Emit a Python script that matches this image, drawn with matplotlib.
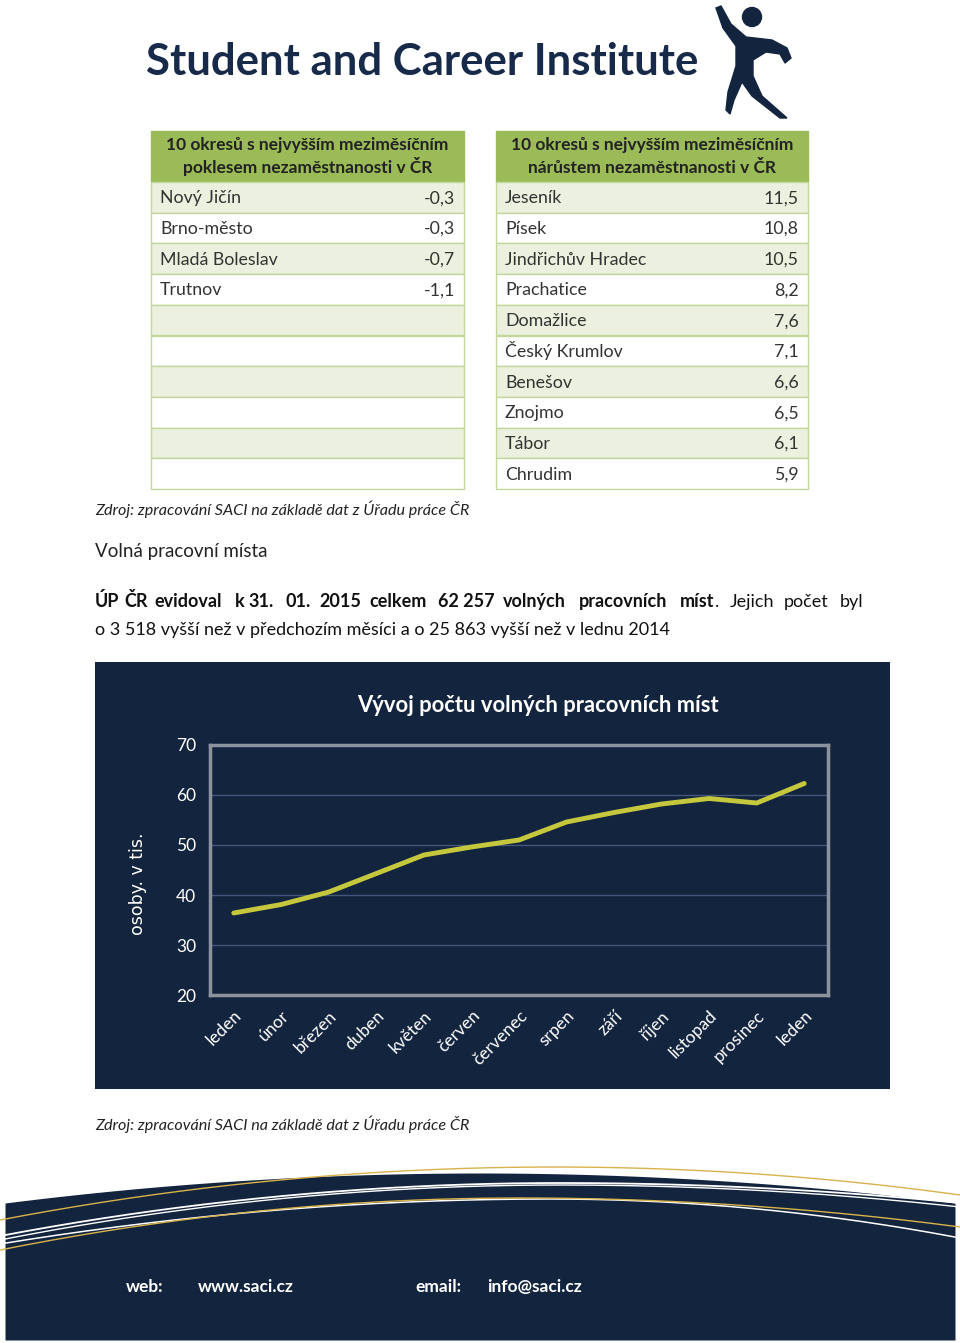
import numpy as np
import matplotlib
matplotlib.use("Agg")
import matplotlib.pyplot as plt
from matplotlib.patches import Rectangle, Circle, Polygon

plt.rcParams['font.family'] = ['Lato', 'DejaVu Sans']

# --- data ---
drop_districts = ["Nový Jičín", "Brno-město", "Mladá Boleslav", "Trutnov"]
drop_values = ["-0,3", "-0,3", "-0,7", "-1,1"]
rise_districts = ["Jeseník", "Písek", "Jindřichův Hradec", "Prachatice", "Domažlice",
                  "Český Krumlov", "Benešov", "Znojmo", "Tábor", "Chrudim"]
rise_values = ["11,5", "10,8", "10,5", "8,2", "7,6", "7,1", "6,6", "6,5", "6,1", "5,9"]

months = ["leden", "únor", "březen", "duben", "květen", "červen", "červenec",
          "srpen", "září", "říjen", "listopad", "prosinec", "leden"]
vacancies = [36.4, 38.1, 40.6, 44.3, 48.0, 49.6, 51.0, 54.6, 56.5, 58.2, 59.3, 58.4, 62.3]
y_ticks = [20, 30, 40, 50, 60, 70]

NAVY = "#13243f"
GREEN = "#9bbb59"
LIGHT = "#ebf1de"
EDGE = "#c3d69b"
LINE = "#c5c83d"
GOLD = "#d8b24a"

W, H = 960, 1343
fig = plt.figure(figsize=(W / 100, H / 100), dpi=100)
bg = fig.add_axes([0, 0, 1, 1])
bg.set_xlim(0, W)
bg.set_ylim(H, 0)
bg.axis("off")

# title + logo
bg.text(422, 62, "Student and Career Institute", fontsize=31.5, fontweight="bold",
        color="#172a4a", ha="center", va="center")
bg.add_patch(Circle((752, 17), 9.5, color=NAVY))
bg.add_patch(Polygon([(716, 8), (721, 6), (731, 24), (746, 37), (772, 40), (787, 48),
                      (791, 58), (785, 63), (780, 54), (766, 52), (753, 60), (753, 76),
                      (762, 96), (787, 118), (780, 118), (752, 96), (742, 82),
                      (734, 100), (730, 114), (726, 110), (728, 92), (736, 66),
                      (736, 46), (723, 28)], closed=True, color=NAVY))

# tables
def draw_table(x0, x1, header, names, values):
    top, hh, rh = 131, 51, 30.7
    bg.add_patch(Rectangle((x0, top), x1 - x0, hh, facecolor=GREEN, edgecolor=GREEN))
    bg.text((x0 + x1) / 2, top + 19, header[0], fontsize=12.5, fontweight="bold",
            color="#222222", ha="center", va="baseline")
    bg.text((x0 + x1) / 2, top + 42, header[1], fontsize=12.5, fontweight="bold",
            color="#222222", ha="center", va="baseline")
    for i in range(10):
        y = top + hh + i * rh
        fc = LIGHT if i % 2 == 0 else "white"
        bg.add_patch(Rectangle((x0, y), x1 - x0, rh, facecolor=fc, edgecolor=EDGE, lw=1))
        if i < len(names):
            bg.text(x0 + 9, y + rh / 2 + 6, names[i], fontsize=12.8, color="#333333",
                    va="baseline", ha="left")
            bg.text(x1 - 9, y + rh / 2 + 6, values[i], fontsize=12.8, color="#333333",
                    va="baseline", ha="right")

draw_table(151, 464, ["10 okresů s nejvyšším meziměsíčním",
                      "poklesem nezaměstnanosti v ČR"], drop_districts, drop_values)
draw_table(496, 808, ["10 okresů s nejvyšším meziměsíčním",
                      "nárůstem nezaměstnanosti v ČR"], rise_districts, rise_values)

src = "Zdroj: zpracování SACI na základě dat z Úřadu práce ČR"
bg.text(95, 509, src, fontsize=11.6, style="italic", color="#222222", va="center")
bg.text(95, 552, "Volná pracovní místa", fontsize=13.5, color="#222222", va="center")

bold_words = [("ÚP", 95), ("ČR", 124), ("evidoval", 154), ("k", 235), ("31.", 248),
              ("01.", 285), ("2015", 319), ("celkem", 369), ("62 257", 438),
              ("volných", 503), ("pracovních", 579), ("míst", 680)]
fig.canvas.draw()
renderer = fig.canvas.get_renderer()
inv = bg.transData.inverted()
last = None
for w, x in bold_words:
    last = bg.text(x, 607, w, fontsize=13, fontweight="bold", color="#111111", va="baseline")
end_x = inv.transform(last.get_window_extent(renderer).get_points())[1][0]
bg.text(end_x, 607, ".", fontsize=13, color="#111111", va="baseline")
for w, x in [("Jejich", 730), ("počet", 784), ("byl", 840)]:
    bg.text(x, 607, w, fontsize=13, color="#111111", va="baseline")
bg.text(95, 635, "o 3 518 vyšší než v předchozím měsíci a o 25 863 vyšší než v lednu 2014",
        fontsize=13, color="#111111", va="baseline")

# chart panel
bg.add_patch(Rectangle((95, 662), 795, 427, facecolor=NAVY, edgecolor="none"))
bg.text(538, 705, "Vývoj počtu volných pracovních míst", fontsize=15.8, fontweight="bold",
        color="white", ha="center", va="center")
bg.text(138, 884, "osoby. v tis.", fontsize=12.5, color="white", rotation=90,
        ha="center", va="center", family=["DejaVu Sans"])

bg.text(95, 1124, src, fontsize=11.6, style="italic", color="#222222", va="center")

ax = fig.add_axes([210 / W, 1 - 995 / H, 618 / W, 250 / H])
ax.set_facecolor(NAVY)
x = np.arange(len(months))
ax.plot(x, vacancies, color=LINE, lw=3.5, solid_capstyle="round", zorder=3)
ax.set_xlim(-0.5, len(months) - 0.5)
ax.set_ylim(20, 70)
ax.set_yticks(y_ticks)
ax.set_xticks(x)
ax.set_xticklabels(months, rotation=45, ha="right", rotation_mode="anchor")
ax.tick_params(colors="white", labelsize=12.5, length=0)
ax.tick_params(axis="y", pad=10)
ax.tick_params(axis="x", pad=9)
ax.grid(axis="y", color="#44577a", lw=1)
for s in ax.spines.values():
    s.set_color("#8d939c")
    s.set_linewidth(2.5)

# footer
xs = np.linspace(5, 955, 300)
top_edge = 1173 + 30 * ((xs - 480) / 475) ** 2
bg.fill_between(xs, top_edge, 1340, color=NAVY, lw=0)
xf = np.linspace(0, 960, 300)
# (peak x, peak y, left y, right y, colour, width)
swooshes = [(555, 1167, 1220, 1195, GOLD, 1.0),
            (560, 1183, 1236, 1203, "white", 1.3),
            (560, 1185, 1240, 1207, "white", 1.0),
            (550, 1199, 1244, 1238, "white", 1.1),
            (520, 1198, 1250, 1227, GOLD, 1.0)]
for px, py, ly, ry, col, lw in swooshes:
    left = py + (ly - py) * ((xf - px) / px) ** 2
    right = py + (ry - py) * ((xf - px) / (960 - px)) ** 2
    bg.plot(xf, np.where(xf < px, left, right), color=col, lw=lw)
for t, xx in [("web:", 126), ("www.saci.cz", 198), ("email:", 415), ("info@saci.cz", 487)]:
    bg.text(xx, 1287, t, fontsize=12.5, fontweight="bold", color="white", va="center")

fig.savefig("out.png", dpi=100, facecolor="white")
